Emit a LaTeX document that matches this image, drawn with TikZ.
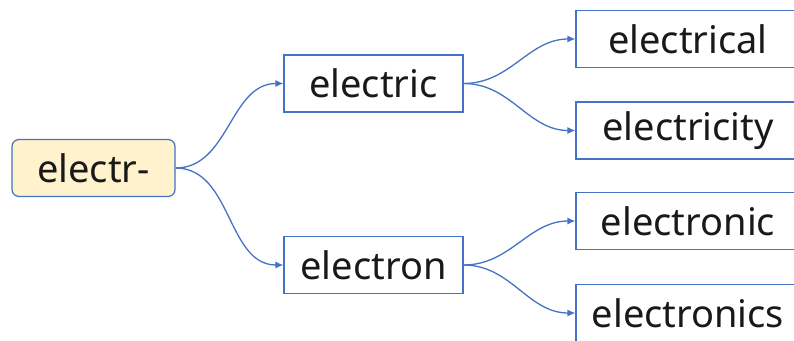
\documentclass[tikz,border=0pt]{standalone}
\usepackage{fontspec}
\setmainfont{Noto Sans}
\usetikzlibrary{arrows.meta}
\definecolor{linkblue}{HTML}{4472C4}
\definecolor{rootfill}{HTML}{FFF2CC}
\tikzset{
    wordbox/.style={draw=linkblue, line width=1.2pt, minimum height=57pt, inner sep=0pt,
        font=\fontsize{38}{44}\selectfont, text=black!90},
    rootbox/.style={wordbox, fill=rootfill, rounded corners=7pt, minimum width=163pt},
    midbox/.style={wordbox, fill=white, minimum width=179pt},
    leafbox/.style={wordbox, fill=white, minimum width=224pt},
    link/.style={draw=linkblue, line width=1.3pt, -{Latex[length=8pt,width=7pt]}}
}
\begin{document}
\begin{tikzpicture}[x=1pt,y=-1pt]
    \useasboundingbox (0,0) rectangle (794,340);
    \node[rootbox] (root) at (93.5,168) {electr-};
    \node[midbox] (electric) at (373.5,83.5) {electric};
    \node[midbox] (electron) at (373.5,265) {electron};
    \node[leafbox] (electrical) at (688,39) {electrical};
    \node[leafbox] (electricity) at (688,130.5) {electricity};
    \node[leafbox] (electronic) at (688,221) {electronic};
    \node[leafbox] (electronics) at (688,313) {electronics};
    \draw[link] (root.east) to[out=0,in=180] (electric.west);
    \draw[link] (root.east) to[out=0,in=180] (electron.west);
    \draw[link] (electric.east) to[out=0,in=180] (electrical.west);
    \draw[link] (electric.east) to[out=0,in=180] (electricity.west);
    \draw[link] (electron.east) to[out=0,in=180] (electronic.west);
    \draw[link] (electron.east) to[out=0,in=180] (electronics.west);
\end{tikzpicture}
\end{document}
